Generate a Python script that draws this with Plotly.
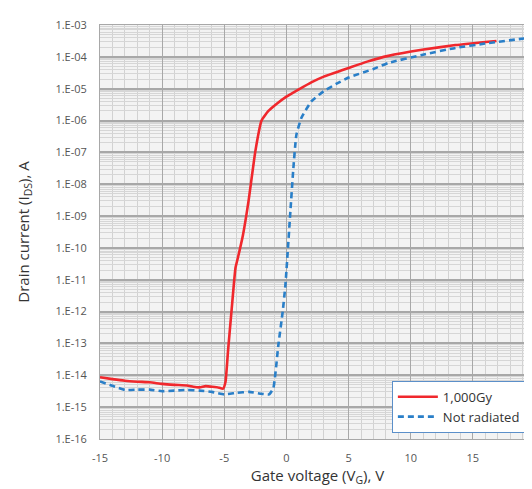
import plotly.graph_objects as go

# 1,000Gy (red, solid)
red_vg = [-15, -14, -13, -12, -11, -10, -9, -8, -7.5, -7, -6.5, -6, -5.5, -5.1, -4.9, -4.7, -4.4, -4.1, -3.9, -3.5, -3.05, -2.5, -2.0, -1.45, -0.8, 0.0, 1.0, 2.0, 3.0, 4.4, 5.0, 6.5, 8.2, 10.9, 13.6, 16.9]
red_log = [-14.06, -14.12, -14.17, -14.2, -14.22, -14.27, -14.3, -14.32, -14.36, -14.38, -14.34, -14.36, -14.38, -14.42, -14.2, -13.24, -11.9, -10.63, -10.3, -9.6, -8.53, -6.96, -6.0, -5.7, -5.48, -5.25, -5.02, -4.8, -4.62, -4.43, -4.35, -4.15, -3.97, -3.78, -3.63, -3.5]

# Not radiated (blue, dashed)
blue_vg = [-15, -14, -13, -12, -11, -10, -9, -8, -7, -6, -5, -4, -3, -2, -1.4, -1.05, -0.65, -0.3, -0.08, 0.32, 0.56, 0.8, 1.2, 2.0, 3.0, 4.0, 5.0, 7.0, 8.2, 10.9, 13.6, 16.2, 20]
blue_log = [-14.19, -14.33, -14.46, -14.45, -14.45, -14.5, -14.48, -14.46, -14.48, -14.52, -14.6, -14.55, -14.52, -14.58, -14.6, -14.4, -13.05, -12.0, -11.16, -8.84, -7.49, -6.45, -5.92, -5.4, -5.08, -4.85, -4.65, -4.38, -4.19, -3.94, -3.72, -3.57, -3.38]

y_tick_exp = list(range(-16, -2))
y_tick_text = ["1.E-%02d" % (-e) for e in y_tick_exp]
x_ticks = [-15, -10, -5, 0, 5, 10, 15, 20]

red_y = [10 ** v for v in red_log]
blue_y = [10 ** v for v in blue_log]

minor_y = [k * 10.0 ** e for e in range(-16, -3) for k in range(2, 10)]

fig = go.Figure()
fig.add_trace(go.Scatter(x=red_vg, y=red_y, mode="lines", name="1,000Gy",
                         line=dict(color="#f0282d", width=2.6, shape="spline", smoothing=0.4)))
fig.add_trace(go.Scatter(x=blue_vg, y=blue_y, mode="lines", name="Not radiated",
                         line=dict(color="#2a7fc8", width=2.6, dash="6px,4px", shape="spline", smoothing=0.4)))

font_fam = "Open Sans, Liberation Sans, Arial"
fig.update_layout(
    width=532, height=489,
    margin=dict(l=92, r=5, t=17, b=58),
    paper_bgcolor="white", plot_bgcolor="#f3f3f3",
    font=dict(family=font_fam, color="#444444"),
    showlegend=True,
    legend=dict(x=0.979, y=0.015, xanchor="right", yanchor="bottom",
                bgcolor="white", bordercolor="#5b8fc9", borderwidth=1,
                font=dict(size=13, color="#333333"), tracegroupgap=0, itemwidth=40),
)
fig.update_xaxes(
    range=[-15, 20], tickvals=x_ticks, ticktext=[str(v) for v in x_ticks],
    tickfont=dict(size=11, color="#555555"),
    ticks="outside", ticklen=9, tickcolor="rgba(0,0,0,0)",
    showgrid=True, gridcolor="#a8a8a8", gridwidth=1,
    minor=dict(dtick=1, showgrid=True, gridcolor="#d2d2d2", gridwidth=1),
    showline=True, linecolor="#a8a8a8", mirror=True, zeroline=False,
    title=dict(text="Gate voltage (V<sub>G</sub>), V", font=dict(size=15, color="#333333"), standoff=6),
)
fig.update_yaxes(
    type="log", range=[-16, -3],
    tickvals=[10.0 ** e for e in y_tick_exp], ticktext=y_tick_text,
    tickfont=dict(size=11, color="#555555"),
    ticks="outside", ticklen=10, tickcolor="rgba(0,0,0,0)",
    showgrid=True, gridcolor="#a8a8a8", gridwidth=1.5,
    minor=dict(tickvals=minor_y, showgrid=True, gridcolor="#d6d6d6", gridwidth=1),
    showline=True, linecolor="#a8a8a8", mirror=True, zeroline=False,
    title=dict(text="Drain current (I<sub>DS</sub>), A", font=dict(size=15, color="#333333"), standoff=22),
)
fig.write_html("out.html")
